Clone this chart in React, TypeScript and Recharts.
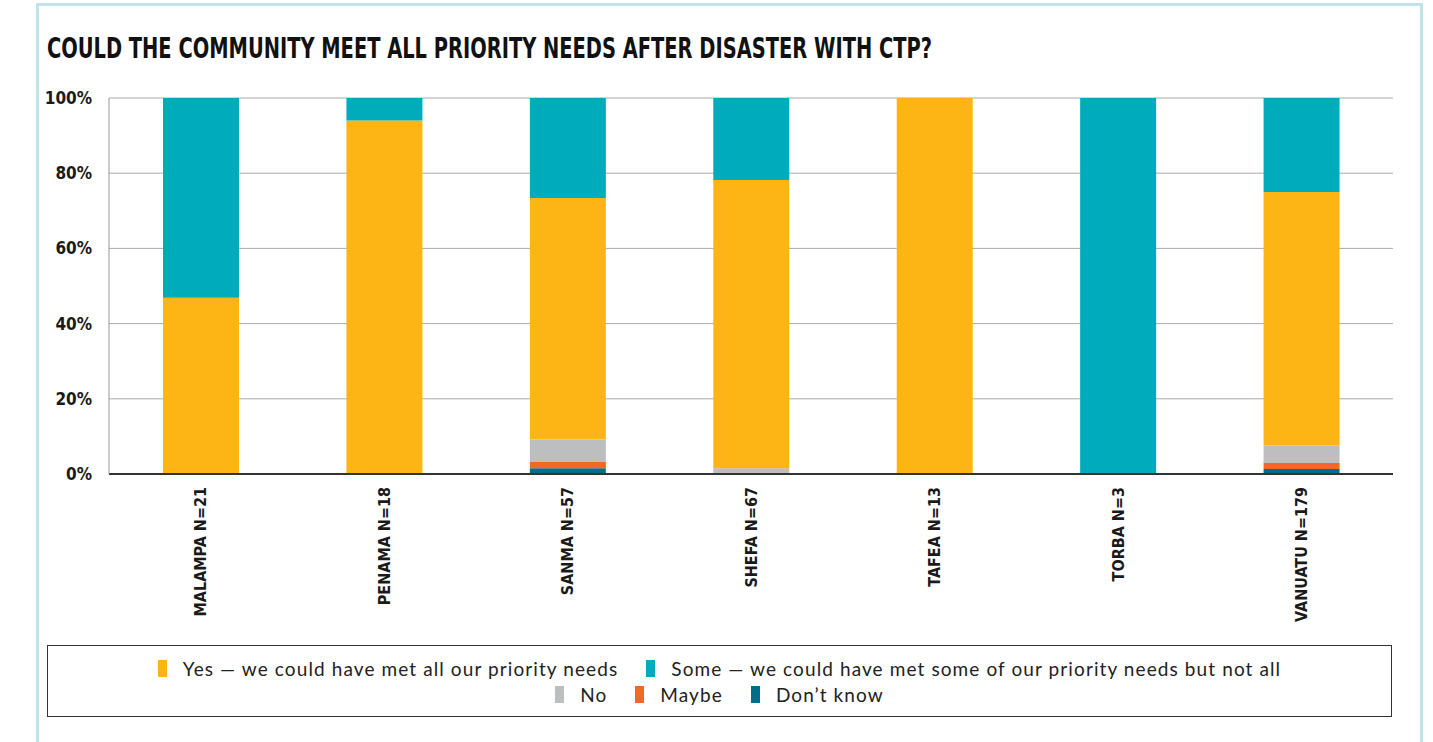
import React from 'react';
import { BarChart, Bar, XAxis, YAxis, CartesianGrid, Legend } from 'recharts';

const categories = ['MALAMPA N=21', 'PENAMA N=18', 'SANMA N=57', 'SHEFA N=67', 'TAFEA N=13', 'TORBA N=3', 'VANUATU N=179'];
const yesValues = [46.9, 94.0, 64.2, 76.7, 100, 0, 67.4];
const someValues = [53.1, 6.0, 26.6, 21.8, 0, 100, 25.0];
const noValues = [0, 0, 6.0, 1.5, 0, 0, 4.7];
const maybeValues = [0, 0, 1.7, 0, 0, 0, 1.6];
const dkValues = [0, 0, 1.5, 0, 0, 0, 1.3];
const yTicks = [0, 20, 40, 60, 80, 100];

const seriesNames = {
  yes: 'Yes — we could have met all our priority needs',
  some: 'Some — we could have met some of our priority needs but not all',
  no: 'No',
  maybe: 'Maybe',
  dk: 'Don’t know',
};
const colors = {
  yes: '#FDB515',
  some: '#00ACBB',
  no: '#BDBEC0',
  maybe: '#F06A25',
  dk: '#006E89',
};

const data = categories.map((c, i) => ({
  name: c,
  yes: yesValues[i],
  some: someValues[i],
  no: noValues[i],
  maybe: maybeValues[i],
  dk: dkValues[i],
}));

const condensed = "'Liberation Sans Narrow', 'DejaVu Sans Condensed', 'Roboto Condensed', sans-serif";

const XTick = (props: any) => {
  const { x, y, payload } = props;
  return (
    <g transform={`translate(${x},${y})`}>
      <text
        transform="rotate(-90)"
        x={-5}
        y={0}
        dy="0.36em"
        textAnchor="end"
        fill="#1a1a1a"
        fontFamily={condensed}
        fontWeight={700}
        fontSize={16}
      >
        {payload.value}
      </text>
    </g>
  );
};

const rows = [['yes', 'some'], ['no', 'maybe', 'dk']];

const LegendContent = () => (
  <div style={{ display: 'flex', flexDirection: 'column', alignItems: 'center', justifyContent: 'center', height: '100%', gap: 4 }}>
    {rows.map((row, ri) => (
      <div key={ri} style={{ display: 'flex', alignItems: 'center', justifyContent: 'center', height: 22 }}>
        {row.map((k) => (
          <div key={k} style={{ display: 'flex', alignItems: 'center', margin: '0 14px' }}>
            <span style={{ display: 'inline-block', width: 9, height: 17, background: (colors as any)[k], marginRight: 16 }} />
            <span style={{ fontFamily: 'Lato, sans-serif', fontSize: 19, letterSpacing: 1.1, color: '#222' }}>{(seriesNames as any)[k]}</span>
          </div>
        ))}
      </div>
    ))}
  </div>
);

export default function App() {
  return (
    <div style={{ position: 'fixed', left: 0, top: 0, width: 1433, height: 742, background: '#fff', overflow: 'hidden' }}>
      <div style={{ position: 'absolute', left: 36, top: 3, width: 1381, height: 800, border: '3px solid #BFE4EA' }} />
      <svg style={{ position: 'absolute', left: 0, top: 0 }} width={1433} height={80}>
        <text x={47} y={58} fontFamily={condensed} fontWeight={700} fontSize={29} fill="#111" textLength={885} lengthAdjust="spacingAndGlyphs">
          COULD THE COMMUNITY MEET ALL PRIORITY NEEDS AFTER DISASTER WITH CTP?
        </text>
      </svg>
      <div style={{ position: 'absolute', left: 0, top: 0 }}>
        <BarChart width={1433} height={742} data={data} margin={{ top: 98, right: 40, left: 49, bottom: 118 }} barSize={76}>
          <CartesianGrid vertical={false} stroke="#AAAAAA" strokeWidth={1} />
          <XAxis
            dataKey="name"
            interval={0}
            height={150}
            tick={<XTick />}
            tickLine={false}
            axisLine={{ stroke: '#333', strokeWidth: 2 }}
          />
          <YAxis
            domain={[0, 100]}
            ticks={yTicks}
            width={60}
            tickFormatter={(v: number) => `${v}%`}
            tickLine={false}
            tickSize={6}
            tickMargin={11}
            axisLine={{ stroke: '#999' }}
            tick={{ fill: '#1a1a1a', fontFamily: condensed, fontWeight: 700, fontSize: 17 }}
          />
          <Legend
            layout="horizontal"
            verticalAlign="middle"
            align="center"
            content={<LegendContent />}
            wrapperStyle={{ left: 47, top: 645, width: 1345, height: 72, border: '1px solid #333', boxSizing: 'border-box', background: '#fff' }}
          />
          <Bar dataKey="dk" stackId="a" name={seriesNames.dk} fill={colors.dk} isAnimationActive={false} />
          <Bar dataKey="maybe" stackId="a" name={seriesNames.maybe} fill={colors.maybe} isAnimationActive={false} />
          <Bar dataKey="no" stackId="a" name={seriesNames.no} fill={colors.no} isAnimationActive={false} />
          <Bar dataKey="yes" stackId="a" name={seriesNames.yes} fill={colors.yes} isAnimationActive={false} />
          <Bar dataKey="some" stackId="a" name={seriesNames.some} fill={colors.some} isAnimationActive={false} />
        </BarChart>
      </div>
    </div>
  );
}
